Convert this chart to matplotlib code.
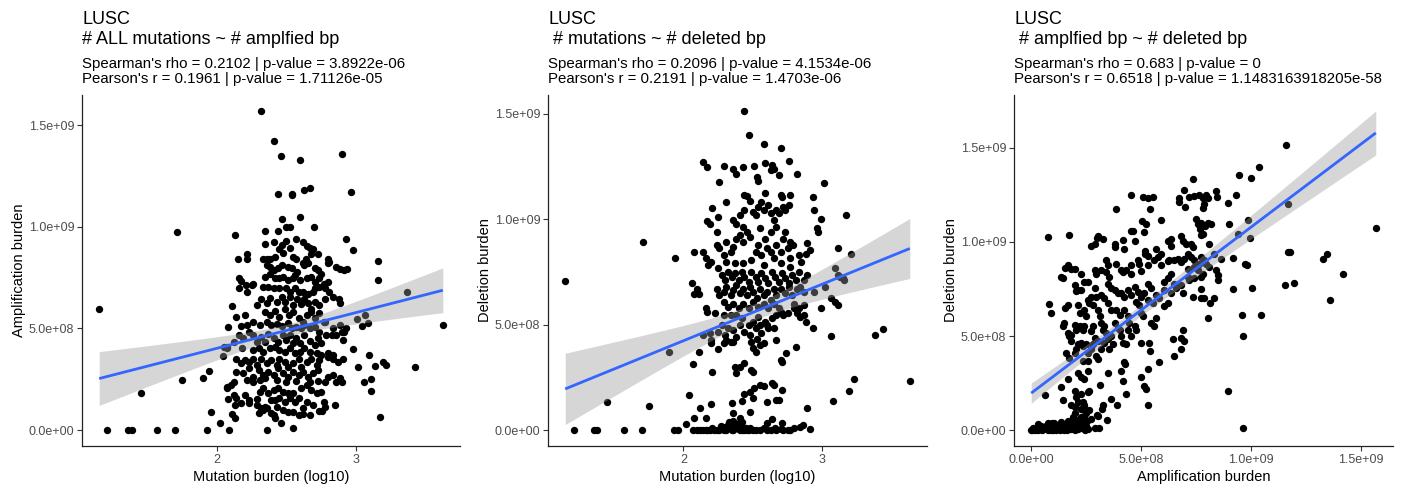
import numpy as np
import matplotlib
matplotlib.use("Agg")
import matplotlib.pyplot as plt

plt.rcParams['font.family'] = ['Liberation Sans', 'DejaVu Sans']

# ---------------- data (y and panel-3 x in units of 1e8 bp) ----------------
p1_sparse = [
(1.15,5.95),(1.21,0),(1.36,0),(1.385,0),(1.57,0),(1.70,0),(1.93,0),(2.09,0),(2.36,0),(2.55,0.08),
(1.45,1.84),(1.71,9.75),(1.75,2.46),(1.90,2.54),(1.94,2.9),(1.96,0.9),(2.02,0.33),(2.11,0.77),(2.13,0.57),
(2.04,3.64),(2.07,4.1),(2.08,5.08),(2.11,6.11),(2.13,9.62),
(2.32,15.7),(2.41,14.2),(2.46,13.5),(2.60,13.3),(2.90,13.6),(2.44,11.6),(2.54,11.6),(2.545,11.55),(2.63,11.8),(2.67,11.9),(2.97,11.7),
(2.60,10.5),(2.47,10.4),(2.50,10.0),(2.53,10.0),(2.70,10.0),(2.35,9.8),(2.44,9.8),(2.93,9.4),(2.98,8.85),
(3.16,8.3),(3.16,7.4),(3.37,6.8),(3.63,5.16),(3.43,3.1),(3.18,0.65),(3.20,3.35),(3.22,3.2),(3.14,3.15),(3.10,3.7),
(3.11,2.5),(3.11,1.9),(3.06,2.35),(3.02,3.1),(2.98,4.0),(3.07,5.65),(3.09,5.25),(3.05,5.1),(3.01,5.45),
(2.78,1.15),(2.85,1.23),(2.74,0.93),(2.76,0.93),(2.67,0.74),(2.62,0.77),(2.41,0.74),(2.42,0.6),(2.46,0.33)]

p1_dense = [
(2.50,9.31),(2.57,9.39),(2.47,9.10),(2.53,8.97),(2.62,9.26),(2.65,9.07),(2.67,8.97),(2.69,8.93),(2.35,9.13),(2.41,9.26),
(2.45,8.90),(2.48,8.69),(2.55,8.52),(2.57,8.41),(2.64,8.44),(2.68,8.64),(2.73,8.64),(2.80,8.41),(2.81,8.28),(2.15,8.44),
(2.22,8.64),(2.22,8.41),(2.42,8.52),(2.38,8.44),(2.33,8.44),(2.36,8.44),
(2.36,8.11),(2.38,8.03),(2.41,7.87),(2.44,7.95),(2.47,8.11),(2.51,8.03),(2.54,7.95),(2.56,7.62),(2.58,7.79),(2.62,8.20),
(2.63,8.11),(2.66,8.20),(2.71,7.95),(2.73,7.87),(2.75,7.70),(2.80,8.20),(2.86,8.03),(2.89,7.92),(2.92,7.87),(2.94,7.92),
(2.16,7.49),(2.17,7.33),(2.21,7.16),(2.22,6.77),(2.25,7.16),(2.26,7.21),(2.35,7.54),(2.38,7.70),(2.42,7.46),(2.45,7.49),
(2.48,7.54),(2.51,7.38),(2.55,7.49),(2.60,7.38),(2.65,7.46),(2.68,7.54),(2.71,7.30),(2.74,7.49),(2.77,7.21),(2.80,7.30),
(2.16,7.00),(2.33,7.05),(2.37,7.05),(2.41,6.97),(2.45,7.00),(2.50,6.97),(2.53,6.80),(2.56,7.00),(2.59,6.80),(2.62,6.80),
(2.66,6.67),(2.69,6.77),(2.71,6.97),(2.74,7.05),(2.78,7.00),(2.81,6.80),(2.84,6.56),(2.88,6.44),(2.89,6.23),(2.29,6.15),
(2.32,6.44),(2.36,6.23),(2.38,6.48),(2.43,6.31),(2.47,6.56),(2.49,6.28),(2.53,6.56),(2.55,6.15),(2.58,6.44),(2.61,6.18),
(2.63,6.44),(2.66,6.23),(2.68,5.98),(2.71,6.28),(2.74,6.15),(2.78,6.44),
(2.35,5.82),(2.38,5.66),(2.42,5.85),(2.45,5.57),(2.49,5.98),(2.52,5.66),(2.55,5.82),(2.59,5.52),(2.62,5.33),(2.65,5.66),
(2.68,5.82),(2.71,5.49),(2.74,5.74),(2.77,5.33),(2.17,5.13),(2.22,5.16),(2.26,5.33),(2.31,5.16),(2.36,5.33),(2.39,5.16),
(2.43,5.20),(2.47,5.13),(2.51,5.25),(2.54,5.00),(2.57,5.08),(2.61,5.00),(2.63,5.16),(2.67,5.03),(2.71,5.08),(2.74,4.84),
(2.78,5.33),(2.84,5.00),(2.89,5.16),(2.92,4.84),(2.93,5.00),(2.14,5.57),(2.20,5.66),
(2.12,4.34),(2.16,4.67),(2.19,4.51),(2.23,4.84),(2.26,4.67),(2.29,4.34),(2.32,4.59),(2.35,4.34),(2.37,4.75),(2.41,4.54),
(2.44,4.34),(2.48,4.67),(2.50,4.43),(2.53,4.67),(2.55,4.26),(2.57,4.51),(2.60,4.26),(2.63,4.67),(2.67,4.38),(2.71,4.18),
(2.73,4.51),(2.75,4.26),(2.79,4.67),(2.83,4.67),(2.86,4.67),(2.90,4.84),(2.91,4.43),(2.05,4.10),(2.07,4.02),(2.18,4.05),
(2.26,3.93),(2.30,4.02),(2.33,3.85),(2.38,4.02),(2.42,4.10),(2.45,3.93),(2.49,3.85),(2.53,4.02),(2.56,3.77),(2.60,3.85),
(2.63,4.02),(2.67,3.85),(2.72,3.77),(2.75,3.69),(2.80,3.77),(2.84,3.69),
(2.14,3.52),(2.17,3.28),(2.20,3.44),(2.23,3.36),(2.26,3.52),(2.29,3.20),(2.32,3.52),(2.36,3.28),(2.39,3.44),(2.43,3.20),
(2.45,3.52),(2.49,3.36),(2.51,3.11),(2.55,3.28),(2.59,3.52),(2.61,3.11),(2.65,3.36),(2.68,3.52),(2.72,3.20),(2.74,3.44),
(2.80,3.61),(2.84,3.52),(2.87,3.36),(2.91,3.52),(2.14,2.87),(2.19,2.79),(2.23,3.03),(2.26,2.62),(2.30,2.95),(2.33,2.70),
(2.37,2.87),(2.41,2.70),(2.44,3.03),(2.48,2.79),(2.51,2.62),(2.55,2.87),(2.59,2.70),(2.62,2.87),(2.66,2.62),(2.69,2.79),
(2.73,2.95),(2.80,2.62),(2.84,2.70),(2.89,2.54),(2.90,2.38),(2.86,2.38),(2.07,2.13),(2.10,2.21),(2.12,2.38),(2.22,2.46),
(2.26,2.34),(2.31,2.46),(2.35,2.54),(2.43,2.46),(2.50,2.38),(2.57,2.41),(2.67,2.34),(2.73,2.41),(2.78,2.38),
(2.07,2.05),(2.12,1.72),(2.14,1.56),(2.17,1.31),(2.20,1.72),(2.23,1.31),(2.29,1.52),(2.31,1.89),(2.33,2.05),(2.37,1.80),
(2.41,1.97),(2.44,2.05),(2.48,1.89),(2.51,1.80),(2.55,1.80),(2.59,1.56),(2.61,2.05),(2.65,2.21),(2.68,1.97),(2.72,1.80),
(2.75,1.89),(2.77,1.39),(2.08,1.52),(2.13,1.23),(2.23,1.48),(2.29,1.23),(2.32,1.07),(2.35,1.15),(2.39,1.48),(2.42,1.48),
(2.45,1.56),(2.49,1.39),(2.53,1.56),(2.56,1.39),(2.62,1.07),(2.65,1.39),(2.33,0.98),(2.36,1.07),(2.39,0.82),(2.43,1.15),
(2.48,0.98),(2.51,0.90),(2.55,0.90),(2.69,1.23),(2.30,0.82),(2.59,0.74)]

p2_sparse = [
(1.15,7.08),(1.21,0),(1.36,0),(1.38,0),(1.57,0),(1.70,0),(1.93,0),(1.96,0),(1.45,1.31),(1.75,1.15),(1.71,8.93),(1.90,3.71),(1.94,8.14),
(2.04,1.66),(2.02,0.27),(2.08,0.55),(2.12,1.03),(2.16,0.55),(2.20,1.22),(2.07,3.11),(2.11,3.71),(2.14,4.53),(2.20,4.27),(2.21,2.73),(2.25,3.82),
(2.06,6.98),(2.08,8.42),(2.10,6.71),(2.11,6.43),(2.08,6.45),
(2.14,12.72),(2.17,12.48),(2.26,11.74),(2.29,12.51),(2.36,12.37),(2.38,12.12),(2.43,12.48),(2.44,15.13),(2.47,14.01),(2.51,12.53),
(2.53,12.0),(2.54,11.8),(2.58,13.54),(2.59,12.64),(2.64,12.56),(2.65,12.37),(2.63,12.32),(2.70,13.35),(2.69,12.09),(2.76,12.75),
(2.82,12.16),(3.01,11.72),(2.93,11.06),(3.17,10.19),(2.94,10.43),(2.99,10.03),(2.96,9.56),(2.97,9.40),(2.89,8.85),(2.91,8.53),
(3.11,8.61),(3.21,8.37),
(3.02,6.79),(3.06,6.27),(3.09,6.08),(3.11,5.92),(3.09,7.66),(3.11,7.35),(3.13,7.27),(3.15,7.19),(3.16,7.11),(2.99,5.77),
(2.94,6.56),(2.93,4.82),(3.06,4.47),(3.38,4.50),(3.44,4.77),(3.63,2.32),(3.23,2.42),(3.19,1.85),(3.08,1.37),(2.89,1.03),
(2.84,0.16),(2.86,0.24),(2.91,0.05),
(2.81,3.92),(2.74,3.67),(2.70,3.32),(2.71,3.24),(2.67,4.27),(2.71,1.90),(2.64,2.21),(2.65,2.13),(2.60,1.31),(2.55,2.13),
(2.58,2.10),(2.51,2.01),(2.48,1.82),(2.44,1.69),(2.42,1.37),(2.50,1.50),(2.67,1.42),(2.69,1.42),(2.48,0.87),(2.64,0.51),
(2.60,0.35),(2.71,0.32),(2.35,1.26),(2.36,0.79),(2.41,0.55),(2.42,0.40),(2.44,3.16),(2.41,3.00),(2.37,3.00),(2.38,2.69),
(2.49,2.84),(2.50,2.76)]

p2_zero = [
(2.07,0),(2.10,0),(2.12,0),(2.14,0),(2.17,0),(2.19,0),(2.22,0),(2.24,0),(2.26,0),(2.29,0.08),(2.30,0.16),(2.31,0),(2.32,0.24),
(2.34,0.08),(2.35,0.32),(2.36,0),(2.37,0.16),(2.38,0.08),(2.40,0.24),(2.41,0),(2.42,0.16),(2.43,0.08),(2.44,0),(2.46,0),
(2.48,0.08),(2.50,0),(2.52,0),(2.55,0),(2.58,0.08),(2.63,0),(2.67,0),(2.72,0),(2.75,0),(2.77,0),(2.33,0.4),(2.36,0.45),(2.39,0.3),
(2.31,0.05),(2.33,0.12),(2.35,0.0),(2.38,0.3),(2.40,0.05),(2.42,0.0),(2.45,0.12),(2.47,0.0),(2.39,0.12),(2.29,0.0),
(2.60,0.0),(2.66,0.1),(2.70,0.05),(2.80,0.1),(2.21,0.1),(2.16,0.0),(2.27,0.2)]

p2_dense = [
(2.17,9.91),(2.19,9.75),(2.21,10.51),(2.25,10.11),(2.24,9.40),(2.31,10.82),(2.36,9.95),(2.38,9.79),(2.41,10.19),(2.43,9.64),
(2.44,11.14),(2.46,11.11),(2.48,10.85),(2.44,10.43),(2.50,10.35),(2.52,10.22),(2.54,10.58),(2.56,10.82),(2.58,10.43),(2.59,11.22),
(2.61,10.66),(2.63,10.27),(2.65,9.95),(2.67,10.43),(2.69,10.27),(2.70,11.14),(2.71,11.06),(2.72,10.58),(2.73,10.43),(2.76,10.66),
(2.77,11.14),
(2.14,8.45),(2.16,8.14),(2.18,7.82),(2.20,7.98),(2.24,8.77),(2.26,8.61),(2.29,8.29),(2.31,8.93),(2.34,8.45),(2.36,8.69),
(2.38,9.08),(2.41,9.24),(2.43,8.93),(2.46,9.40),(2.48,9.16),(2.52,8.45),(2.54,8.77),(2.56,8.29),(2.59,9.08),(2.60,8.61),
(2.63,8.45),(2.65,8.14),(2.67,8.77),(2.70,8.45),(2.72,9.08),(2.75,8.61),(2.77,8.14),(2.79,8.77),(2.83,8.29),(2.85,7.98),
(2.88,8.37),(2.63,9.40),(2.55,9.56),(2.67,9.64),(2.73,9.40),(2.77,8.93),(2.49,8.06),(2.43,7.90),(2.37,7.90),(2.31,7.98),
(2.58,7.82),(2.70,7.90),(2.77,7.74),
(2.25,7.66),(2.28,7.35),(2.30,7.11),(2.32,7.50),(2.35,7.27),(2.37,7.43),(2.40,7.11),(2.42,7.50),(2.44,7.27),(2.47,7.03),
(2.49,7.50),(2.52,7.27),(2.54,7.03),(2.56,7.43),(2.59,7.19),(2.61,6.95),(2.64,7.50),(2.66,7.27),(2.69,7.03),(2.71,7.43),
(2.73,7.19),(2.76,6.95),(2.78,7.35),(2.81,7.11),(2.83,7.50),(2.87,7.11),(2.89,7.35),
(2.24,6.71),(2.26,6.40),(2.29,6.56),(2.31,6.79),(2.34,6.40),(2.36,6.64),(2.38,6.87),(2.41,6.48),(2.43,6.71),(2.46,6.40),
(2.48,6.79),(2.50,6.56),(2.53,6.24),(2.55,6.71),(2.58,6.40),(2.60,6.56),(2.63,6.16),(2.65,6.71),(2.67,6.40),(2.70,6.71),
(2.73,6.48),(2.76,6.79),(2.78,6.40),(2.82,6.71),(2.84,6.79),(2.87,6.56),
(2.29,6.08),(2.32,5.85),(2.36,6.00),(2.40,5.77),(2.43,6.00),(2.47,5.77),(2.50,6.08),(2.54,5.85),(2.58,6.00),(2.61,5.77),
(2.65,6.00),(2.69,5.77),(2.80,6.00),(2.83,5.77),(2.87,5.92),(2.16,5.77),(2.17,5.61),(2.23,5.53),
(2.19,4.58),(2.20,4.15),(2.25,4.66),(2.28,4.98),(2.30,4.50),(2.32,4.82),(2.34,4.19),(2.36,4.74),(2.38,4.42),(2.41,4.98),
(2.42,5.29),(2.44,4.66),(2.47,4.98),(2.48,4.50),(2.50,5.13),(2.52,4.82),(2.53,4.34),(2.54,5.37),(2.55,4.98),(2.56,4.58),
(2.59,5.13),(2.61,4.82),(2.64,5.29),(2.65,4.82),(2.67,5.45),(2.70,5.61),(2.72,5.45),(2.75,5.53),(2.80,5.77),(2.82,5.53),
(2.84,5.37),(2.87,5.45),(2.88,5.13),(2.49,4.19),(2.50,3.87),(2.52,3.71),(2.55,4.03),(2.58,4.11),(2.60,4.98),(2.29,4.11),
(2.31,4.27),(2.36,4.19),(2.38,5.45),(2.34,5.45),(2.29,5.45)]

p3_sparse = [
(11.59,15.15),(10.38,14.01),(9.47,13.54),(10.0,13.40),(9.32,12.52),(8.94,12.07),(11.70,12.03),(15.68,10.77),(9.85,11.16),(9.02,10.95),
(9.97,10.21),(9.39,10.42),(11.70,9.46),(11.79,9.46),(13.26,9.11),(13.48,9.37),(14.21,8.28),(11.94,7.83),(11.56,7.71),(13.59,6.92),
(10.03,7.57),(9.73,8.84),(9.80,8.76),(9.17,7.48),(9.17,9.14),(10.45,6.13),(9.58,6.13),(9.62,4.99),(8.97,2.07),(9.64,0.09),
(8.03,5.95),(8.15,6.78),(8.30,7.04),(7.73,7.01),(7.88,7.01),(7.35,7.09),(7.73,7.48),(6.89,5.34),(6.82,4.87),(6.94,4.73),
(6.82,4.29),(6.44,4.85),(6.52,3.94),(5.83,3.64),(5.30,3.24),(5.30,1.35),(5.15,2.36),(5.23,2.19),(5.0,2.80),(5.0,4.64),
(5.38,4.64),(5.42,4.20),(4.32,1.93),(4.21,3.63),(4.27,3.50),(4.09,3.15),(4.17,2.63),(3.91,1.31),(3.48,3.06),(3.64,1.66),
(3.15,2.40),(3.26,1.31),(3.21,1.14),(3.0,0.82),(3.06,0.75),(3.45,0.53)]

p3_low = [
(1.97,2.10),(2.05,1.75),(2.27,1.93),(2.12,1.49),(2.35,1.49),(2.42,1.31),(2.61,1.05),(2.50,1.05),(2.27,1.14),(1.97,1.23),
(1.82,1.31),(1.44,1.61),(1.36,2.28),(0.64,1.84),(1.74,3.85),(2.12,3.06),(2.58,3.15),(2.39,2.71),(2.35,3.68),(2.58,3.68),
(2.65,2.10),(2.58,2.01),(2.50,0.88),(2.27,0.70),
(0.0,0.0),(0.05,0.02),(0.1,0.1),(0.2,0.05),(0.3,0.3),(0.4,0.1),(0.5,0.0),(0.6,0.15),(0.7,0.05),(0.8,0.3),
(0.9,0.2),(1.0,0.05),(1.1,0.1),(1.2,0.25),(1.3,0.0),(1.4,0.1),(1.5,0.05),(1.6,0.2),(1.7,0.4),(1.8,0.05),
(1.9,0.1),(2.0,0.0),(2.1,0.3),(2.2,0.15),(2.3,0.1),(2.4,0.45),(2.5,0.2),(2.6,0.05),(2.7,0.6),(2.9,0.1),(3.1,0.1),
(0.3,0.0),(0.55,0.05),(0.65,0.2),(0.85,0.1),(1.05,0.35),(1.25,0.1),(1.45,0.25),(1.65,0.0),(1.85,0.3),(2.15,0.05),
(2.35,0.2),(2.45,0.0),(2.55,0.5),(1.0,0.0),(1.5,0.0),(2.0,0.1),(0.75,0.0),(1.15,0.0),(1.35,0.45),(0.95,0.4),
(0.76,0.35),(1.67,0.47),(2.12,0.53),
(0.15,0.0),(0.45,0.2),(0.9,0.0),(1.2,0.05),(1.55,0.3),(1.75,0.15),(1.95,0.4),(2.25,0.3),(2.05,0.2),(1.3,0.3),
(2.2,0.6),(2.4,0.75),(2.3,0.45),(1.9,0.7),(2.0,0.9)]

p3_dense = [
(3.86,11.73),(4.55,12.52),(5.08,12.38),(5.30,12.35),(5.53,12.38),(5.42,11.73),(5.91,11.16),(5.03,11.09),(5.23,10.95),(6.74,12.35),
(6.74,12.14),(7.0,11.87),(7.35,13.35),(6.97,12.78),(7.20,12.38),(7.42,12.43),(7.65,12.52),(7.80,12.35),(7.95,12.52),(8.03,12.35),
(7.88,12.0),(7.80,11.82),(8.41,12.70),(8.45,12.38),(7.50,11.21),(7.73,11.03),(7.91,10.86),(7.58,10.95),(7.70,10.68),(7.80,10.42),
(8.03,11.03),(8.18,10.95),(6.36,10.16),(6.82,10.33),(6.89,10.07),(7.05,9.89),(7.27,9.89),(7.35,9.72),(7.73,10.38),(8.11,9.89),
(0.76,10.24),(1.74,10.38),(3.03,10.33),(2.88,9.89),(2.73,9.81),(3.0,10.21),(3.26,10.16),(3.79,9.89),(3.79,9.72),(4.17,10.10),
(4.55,10.60),(4.65,10.60),(4.24,9.63),(4.70,10.03),(5.12,10.51),(5.18,9.51),(5.20,9.37),(6.21,10.03),(6.36,9.81),(5.68,9.63),
(5.91,9.37),(6.29,9.02),(6.52,9.02),(5.30,9.23),(4.85,9.02),(4.92,8.84),(4.55,8.76),(3.86,8.84),(3.48,8.76),(3.41,9.02),
(1.67,8.76),(1.82,8.58),(1.97,8.58),(1.36,8.14),(1.44,8.06),(1.52,8.63),(2.27,8.32),(2.88,8.49),(2.95,8.32),(3.18,8.49),
(3.41,8.41),(3.56,8.14),(4.09,8.49),(4.17,8.41),(4.32,8.53),(4.55,8.32),(5.0,8.46),(5.30,8.76),(5.61,9.02),(5.76,9.19),
(5.91,8.76),(6.21,8.98),(6.67,9.11),(6.82,8.93),(6.97,9.11),(7.12,9.37),(7.27,9.19),(7.42,9.02),(7.73,9.19),(7.88,9.02),
(7.95,8.84),(8.33,9.37),(8.64,9.11),(8.11,8.67),(8.41,8.49),(8.48,8.23),(8.48,7.97),(6.36,8.32),(7.12,8.58),(7.58,8.49),
(7.73,8.14),(7.80,8.32),(7.42,8.06),
(0.79,6.71),(0.91,6.22),(1.44,5.55),(1.48,5.69),(1.52,6.48),(1.67,6.66),(1.67,5.17),(1.74,4.99),(1.82,4.73),(1.82,5.08),
(1.97,7.71),(2.05,7.41),(2.12,7.44),(2.27,7.44),(2.12,6.66),(2.20,6.22),(1.97,5.60),(2.05,5.34),(2.20,5.52),(2.35,5.34),
(2.42,5.52),(2.42,7.88),(2.58,7.88),(2.58,6.92),(2.65,6.74),(2.42,6.39),(2.50,6.04),(2.73,7.09),(2.80,6.66),(2.88,7.53),
(2.95,7.09),(3.03,6.39),(3.11,6.04),(3.18,7.18),(3.33,7.01),(3.18,5.69),(3.26,5.34),(3.48,7.79),(3.64,7.53),(3.48,6.74),
(3.64,6.39),(3.79,7.44),(3.94,7.27),(3.86,6.39),(4.02,6.13),(3.79,5.69),(3.94,5.43),(4.09,7.27),(4.24,7.09),(4.39,7.44),
(4.55,7.18),(4.24,6.39),(4.39,6.04),(4.47,5.69),(4.70,7.62),(4.85,7.36),(4.77,6.83),(4.92,6.66),(5.0,7.09),(5.15,7.27),
(5.30,7.79),(5.45,7.53),(5.30,6.92),(5.53,6.74),(5.68,7.18),(5.83,7.01),(6.06,7.88),(6.21,8.06),(6.06,7.44),(6.36,7.27),
(6.52,7.79),(6.59,7.53),(6.06,6.57),(6.21,6.74),(5.68,5.95),(5.45,5.69),(5.61,5.52),(5.0,6.22),(5.08,6.04),(6.82,7.71),
(6.89,7.27),(7.12,8.14),(7.20,7.97),(7.42,8.67),(7.65,8.84),
(1.97,4.12),(2.05,4.29),(2.12,4.55),(2.27,4.64),(2.35,4.47),(2.50,4.55),(2.58,4.12),(2.73,4.29),(2.80,4.55),(2.88,4.90),
(3.03,4.73),(2.95,3.94),(3.03,3.77),(3.18,4.29),(3.33,4.64),(3.48,4.82),(3.64,4.99),(3.56,4.29),(3.71,4.55),(4.02,5.34),
(4.09,4.99),(4.17,4.64),(4.32,4.55),(4.39,5.34),(4.55,4.99),(4.70,5.52),(4.77,5.34),(2.73,5.25),(2.80,5.52),(3.33,5.52),
(3.41,5.17),(1.59,4.12),(2.27,2.80),(1.67,2.71)]

SCALE = 1e8
titles = ["LUSC\n# ALL mutations ~ # amplfied bp",
          "LUSC\n # mutations ~ # deleted bp",
          "LUSC\n # amplfied bp ~ # deleted bp"]
subtitles = ["Spearman's rho = 0.2102 | p-value = 3.8922e-06\nPearson's r = 0.1961 | p-value = 1.71126e-05",
             "Spearman's rho = 0.2096 | p-value = 4.1534e-06\nPearson's r = 0.2191 | p-value = 1.4703e-06",
             "Spearman's rho = 0.683 | p-value = 0\nPearson's r = 0.6518 | p-value = 1.1483163918205e-58"]
xlabels = ["Mutation burden (log10)", "Mutation burden (log10)", "Amplification burden"]
ylabels = ["Amplification burden", "Deletion burden", "Deletion burden"]
burden_ticks = [0, 5e8, 1e9, 1.5e9]
burden_labels = ["0.0e+00", "5.0e+08", "1.0e+09", "1.5e+09"]
log_ticks = [2, 3]
log_labels = ["2", "3"]

panels = [
    (p1_sparse + p1_dense, False),
    (p2_sparse + p2_zero + p2_dense, False),
    (p3_sparse + p3_low + p3_dense, True),
]

W, H = 1405, 488
fig = plt.figure(figsize=(W / 100, H / 100), dpi=100)
ax_px = [(82, 460), (548, 927), (1014, 1393)]
top_px, bot_px = 95, 446


def lm_ci(x, y, grid):
    n = len(x)
    X = np.column_stack([np.ones(n), x])
    beta = np.linalg.lstsq(X, y, rcond=None)[0]
    resid = y - X @ beta
    s2 = resid @ resid / (n - 2)
    inv = np.linalg.inv(X.T @ X)
    G = np.column_stack([np.ones(len(grid)), grid])
    fit = G @ beta
    se = np.sqrt(np.einsum('ij,jk,ik->i', G, inv, G) * s2)
    t = 1.966
    return fit, fit - t * se, fit + t * se


for i, (pts, x_is_burden) in enumerate(panels):
    l, r = ax_px[i]
    ax = fig.add_axes([l / W, (H - bot_px) / H, (r - l) / W, (bot_px - top_px) / H])
    x = np.array([p[0] for p in pts], dtype=float)
    y = np.array([p[1] for p in pts], dtype=float) * SCALE
    if x_is_burden:
        x = x * SCALE
    ax.scatter(x, y, s=28, color='black', linewidths=0, zorder=2)
    grid = np.linspace(x.min(), x.max(), 80)
    fit, lo, hi = lm_ci(x, y, grid)
    ax.fill_between(grid, lo, hi, color='#999999', alpha=0.4, linewidth=0, zorder=3)
    ax.plot(grid, fit, color='#3366FF', lw=2.0, zorder=4, solid_capstyle='butt')

    xmin, xmax = x.min(), x.max()
    ymin = min(y.min(), lo.min()); ymax = max(y.max(), hi.max())
    dx = (xmax - xmin) * 0.05; dy = (ymax - ymin) * 0.05
    ax.set_xlim(xmin - dx, xmax + dx)
    ax.set_ylim(ymin - dy, ymax + dy)

    for s in ['top', 'right']:
        ax.spines[s].set_visible(False)
    for s in ['left', 'bottom']:
        ax.spines[s].set_color('#222222')
        ax.spines[s].set_linewidth(0.9)
    ax.set_yticks(burden_ticks)
    ax.set_yticklabels(burden_labels)
    if x_is_burden:
        ax.set_xticks(burden_ticks)
        ax.set_xticklabels(burden_labels)
    else:
        ax.set_xticks(log_ticks)
        ax.set_xticklabels(log_labels)
    ax.tick_params(axis='both', length=3.5, width=0.8, color='#333333',
                   labelcolor='#4D4D4D', labelsize=9, pad=2)
    ax.set_xlabel(xlabels[i], fontsize=10.5, labelpad=3)
    ax.set_ylabel(ylabels[i], fontsize=10.5, labelpad=2)

    t1, t2 = titles[i].split("\n")
    fig.text(l / W, 1 - 24 / H, t1, fontsize=13, va='baseline', ha='left')
    fig.text(l / W, 1 - 44 / H, t2, fontsize=13, va='baseline', ha='left')
    s1, s2 = subtitles[i].split("\n")
    fig.text(l / W, 1 - 68 / H, s1, fontsize=10.8, va='baseline', ha='left')
    fig.text(l / W, 1 - 83 / H, s2, fontsize=10.8, va='baseline', ha='left')

fig.savefig("out.png", dpi=100)
